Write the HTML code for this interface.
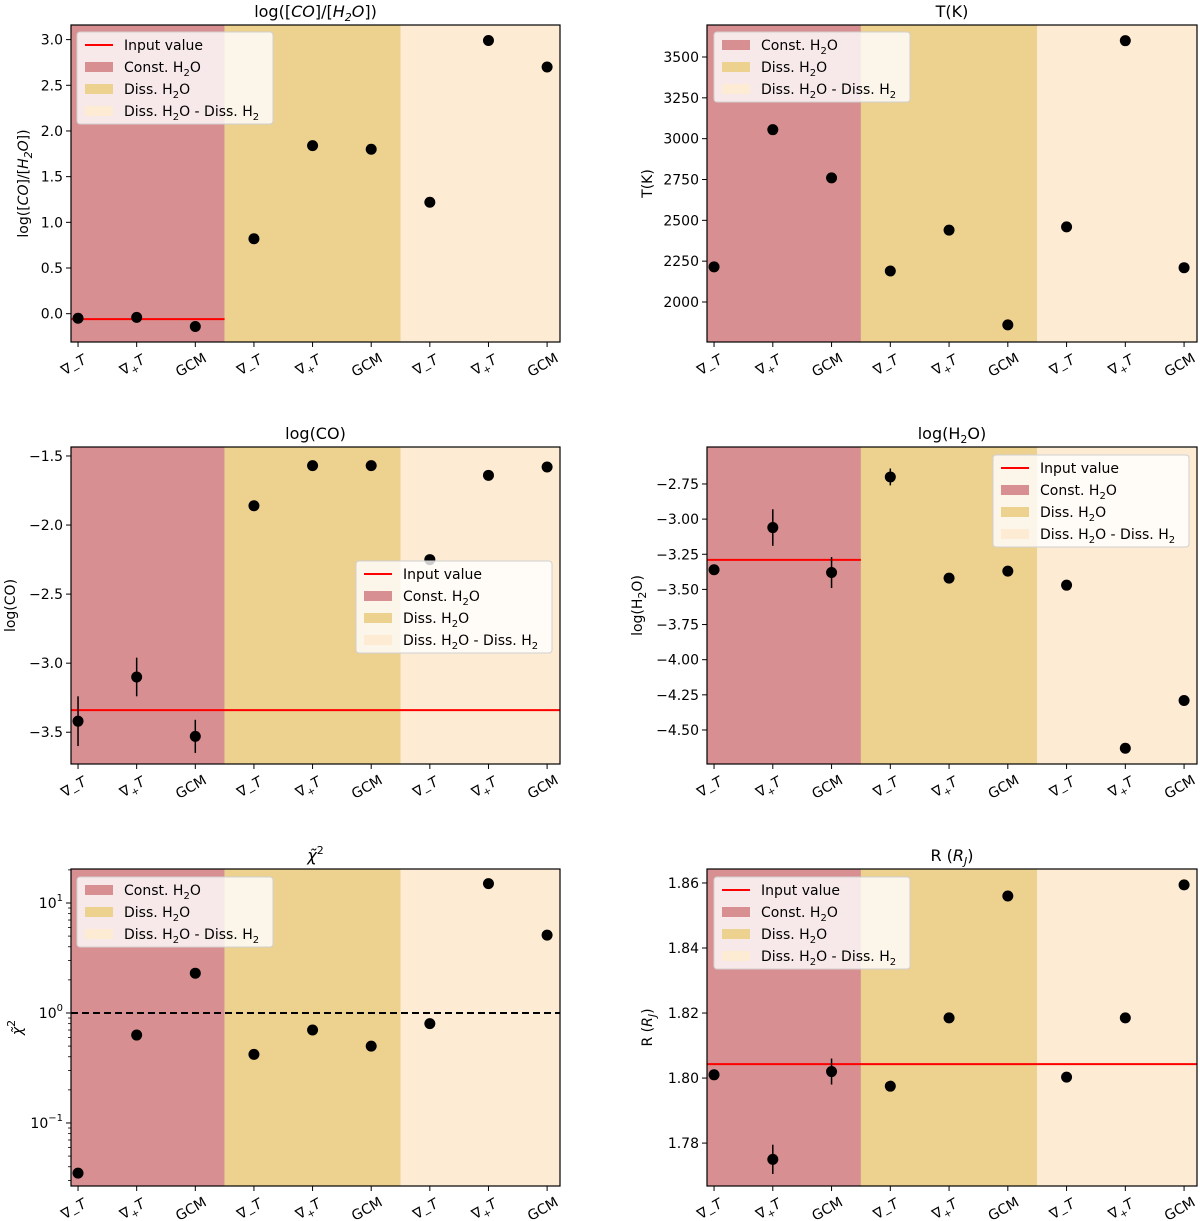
<!DOCTYPE html>
<html><head><meta charset="utf-8">
<style>
html,body{margin:0;padding:0;background:#fff;}
svg{display:block;font-family:"DejaVu Sans","Liberation Sans",sans-serif;}
</style></head>
<body>
<svg id="fig" width="1200" height="1221" viewBox="0 0 1200 1221" xmlns="http://www.w3.org/2000/svg"></svg>
<script>
const categories = ["grad-T","grad+T","GCM","grad-T","grad+T","GCM","grad-T","grad+T","GCM"];
const coh2oValues = [-0.05,-0.04,-0.14,0.82,1.84,1.80,1.22,2.99,2.70];
const coh2oErr = [0,0,0,0,0,0,0,0,0];
const tempValues = [2215,3055,2760,2190,2440,1860,2460,3600,2210];
const tempErr = [0,0,0,0,0,0,0,0,0];
const logcoValues = [-3.42,-3.10,-3.53,-1.86,-1.57,-1.57,-2.25,-1.64,-1.58];
const logcoErr = [0.18,0.14,0.12,0,0,0,0.03,0,0];
const logh2oValues = [-3.36,-3.06,-3.38,-2.70,-3.42,-3.37,-3.47,-4.63,-4.29];
const logh2oErr = [0,0.13,0.11,0.06,0,0,0,0,0];
const chi2Values = [0.035,0.63,2.3,0.42,0.7,0.5,0.8,15,5.1];
const chi2Err = [0,0,0,0,0,0,0,0,0];
const radiusValues = [1.801,1.775,1.802,1.7975,1.8185,1.856,1.8003,1.8185,1.8594];
const radiusErr = [0,0.0045,0.004,0.001,0,0,0,0,0];
const coh2oTicks = [0.0,0.5,1.0,1.5,2.0,2.5,3.0];
const tempTicks = [2000,2250,2500,2750,3000,3250,3500];
const logcoTicks = [-3.5,-3.0,-2.5,-2.0,-1.5];
const logh2oTicks = [-4.5,-4.25,-4.0,-3.75,-3.5,-3.25,-3.0,-2.75];
const radiusTicks = [1.78,1.80,1.82,1.84,1.86];
const chi2Ticks = [-1,0,1];

const NS="http://www.w3.org/2000/svg";
const svg=document.getElementById('fig');
function mk(tag,attrs,parent){const e=document.createElementNS(NS,tag);for(const k in attrs)e.setAttribute(k,attrs[k]);(parent||svg).appendChild(e);return e;}

const COLS=[{l:71,r:560},{l:707,r:1197}];
const ROWS=[{t:25,b:342},{t:447,b:764},{t:869,b:1186}];
const XMIN=-0.12,XMAX=8.22;

function fmt(v,d){const s=v.toFixed(d);return s.replace('-','\u2212');}

function panel(opt){
  const c=COLS[opt.col],r=ROWS[opt.row];
  const g=mk('g',{});
  
  
  const xs=v=>c.l+(v-XMIN)/(XMAX-XMIN)*(c.r-c.l);
  const tf=opt.log?(v=>Math.log10(v)):(v=>v);
  const ys=v=>r.b-(tf(v)-opt.ymin)/(opt.ymax-opt.ymin)*(r.b-r.t);
  const ysRaw=lv=>r.b-(lv-opt.ymin)/(opt.ymax-opt.ymin)*(r.b-r.t);
  const spans=[[XMIN,2.5,'#d88f91','span-const-h2o'],[2.5,5.5,'#ecd18f','span-diss-h2o'],[5.5,XMAX,'#fdebd3','span-diss-h2o-diss-h2']];
  spans.forEach(s=>{const e=mk('rect',{x:xs(s[0]),y:r.t,width:xs(s[1])-xs(s[0]),height:r.b-r.t,fill:s[2]},g);
    
    });
  if(opt.input!==undefined){const e=mk('line',{x1:xs(XMIN),x2:xs(opt.inputEnd),y1:ys(opt.input),y2:ys(opt.input),stroke:'#ff0000','stroke-width':2},g);
    
    }
  if(opt.dashed!==undefined){const e=mk('line',{x1:c.l,x2:c.r,y1:ys(opt.dashed),y2:ys(opt.dashed),stroke:'#000','stroke-width':2,'stroke-dasharray':'7,4'},g);
    
    }
  opt.vals.forEach((v,i)=>{
    const x=xs(i),y=ys(v);
    if(opt.err[i]>0){
      const y1=opt.log?ys(v*(1+opt.err[i])):ys(v+opt.err[i]);
      const y2=opt.log?ys(v/(1+opt.err[i])):ys(v-opt.err[i]);
      const e=mk('line',{x1:x,x2:x,y1:y1,y2:y2,stroke:'#000','stroke-width':1.5},g);
      
      
    }
    const p=mk('circle',{cx:x,cy:y,r:5.5,fill:'#000'},g);
    
    
  });
  const f=mk('rect',{x:c.l,y:r.t,width:c.r-c.l,height:r.b-r.t,fill:'none',stroke:'#000','stroke-width':1.2},g);
  
  
  categories.forEach((cat,i)=>{
    const x=xs(i);
    mk('line',{x1:x,x2:x,y1:r.b,y2:r.b+5,stroke:'#000','stroke-width':1},g);
    const t=mk('text',{x:0,y:0,'font-size':14,'text-anchor':'middle',transform:`translate(${x-2},${r.b+27}) rotate(-30)`},g);
    
    
    if(cat==='GCM'){t.textContent='GCM';}
    else{
      const a=mk('tspan',{},t);a.textContent='\u2207';
      const b=mk('tspan',{'font-size':10,dy:4},t);b.textContent=cat==='grad-T'?'\u2212':'+';
      const d=mk('tspan',{dy:-4,'font-style':'italic'},t);d.textContent='T';
    }
  });
  if(opt.log){
    for(let dec=-2;dec<=1;dec++){for(let m=2;m<=9;m++){const lv=dec+Math.log10(m);
      if(lv>opt.ymin&&lv<opt.ymax){const y=ysRaw(lv);mk('line',{x1:c.l-3,x2:c.l,y1:y,y2:y,stroke:'#000','stroke-width':0.8},g);}}}
    opt.ticks.forEach(p=>{const y=ysRaw(p);
      mk('line',{x1:c.l-5,x2:c.l,y1:y,y2:y,stroke:'#000','stroke-width':1},g);
      const t=mk('text',{x:c.l-8,y:y+5,'font-size':14,'text-anchor':'end'},g);
      
      
      const a=mk('tspan',{},t);a.textContent='10';
      const b=mk('tspan',{'font-size':10,dy:-7},t);b.textContent=p<0?'\u2212'+(-p):String(p);
    });
  } else {
    opt.ticks.forEach(v=>{const y=ys(v);
      mk('line',{x1:c.l-5,x2:c.l,y1:y,y2:y,stroke:'#000','stroke-width':1},g);
      const t=mk('text',{x:c.l-8,y:y+5,'font-size':14,'text-anchor':'end'},g);
      
      
      t.textContent=fmt(v,opt.dec);
    });
  }
  const tt=mk('text',{x:(c.l+c.r)/2,y:r.t-8,'font-size':16,'text-anchor':'middle'},g);
  
  
  opt.title(tt);
  const yl=mk('text',{x:0,y:0,'font-size':14,'text-anchor':'middle',transform:`translate(${opt.ylx},${(r.t+r.b)/2}) rotate(-90)`},g);
  
  
  opt.title(yl,true);
  if(opt.legend){
    const L=opt.legend;const n=L.input?4:3;
    const lg=mk('g',{},g);
    
    
    mk('rect',{x:L.x,y:L.y,width:196,height:n*22+4,rx:3,fill:'rgba(255,255,255,0.8)',stroke:'#d0d0d0','stroke-width':1},lg);
    let yy=L.y+13;
    const items=[];
    if(L.input)items.push(['line','Input value']);
    items.push(['#d88f91','Const. H','2','O']);
    items.push(['#ecd18f','Diss. H','2','O']);
    items.push(['#fdebd3','Diss. H','2','O - Diss. H','2']);
    items.forEach(it=>{
      const ent=mk('g',{},lg);
      
      
      if(it[0]==='line')mk('line',{x1:L.x+8,x2:L.x+36,y1:yy,y2:yy,stroke:'#ff0000','stroke-width':2},ent);
      else mk('rect',{x:L.x+8,y:yy-5,width:28,height:10,fill:it[0]},ent);
      const t=mk('text',{x:L.x+47,y:yy+5,'font-size':14},ent);
      let dy=0;
      for(let k=1;k<it.length;k++){
        const s=mk('tspan',{},t);
        if(k%2===0){s.setAttribute('font-size',10);s.setAttribute('dy',4);dy=4;}
        else if(dy){s.setAttribute('dy',-4);dy=0;}
        s.textContent=it[k];
      }
      yy+=22;
    });
  }
}

function sub(t,main,s,rest){const a=mk('tspan',{},t);a.textContent=main;const b=mk('tspan',{'font-size':11,dy:4},t);b.textContent=s;const d=mk('tspan',{dy:-4},t);d.textContent=rest;}

panel({name:'co-h2o-ratio',col:0,row:0,vals:coh2oValues,err:coh2oErr,ymin:-0.31,ymax:3.16,ticks:coh2oTicks,dec:1,input:-0.06,inputEnd:2.5,ylx:28,
  title:(t)=>{const a=mk('tspan',{},t);a.textContent='log([';const b=mk('tspan',{'font-style':'italic'},t);b.textContent='CO';const c=mk('tspan',{},t);c.textContent=']/[';
    const d=mk('tspan',{'font-style':'italic'},t);d.textContent='H';const e=mk('tspan',{'font-size':11,dy:4,'font-style':'italic'},t);e.textContent='2';const f=mk('tspan',{dy:-4,'font-style':'italic'},t);f.textContent='O';const h=mk('tspan',{},t);h.textContent='])';},
  legend:{x:77,y:32,input:true}});
panel({name:'temperature',col:1,row:0,vals:tempValues,err:tempErr,ymin:1755,ymax:3696,ticks:tempTicks,dec:0,ylx:652,
  title:(t)=>{t.textContent='T(K)';},legend:{x:714,y:32,input:false}});
panel({name:'log-co',col:0,row:1,vals:logcoValues,err:logcoErr,ymin:-3.73,ymax:-1.435,ticks:logcoTicks,dec:1,input:-3.34,inputEnd:XMAX,ylx:15,
  title:(t)=>{t.textContent='log(CO)';},legend:{x:356,y:561,input:true}});
panel({name:'log-h2o',col:1,row:1,vals:logh2oValues,err:logh2oErr,ymin:-4.742,ymax:-2.487,ticks:logh2oTicks,dec:2,input:-3.29,inputEnd:2.5,ylx:642,
  title:(t)=>{sub(t,'log(H','2','O)');},legend:{x:993,y:455,input:true}});
panel({name:'reduced-chi2',col:0,row:2,log:true,vals:chi2Values,err:chi2Err,ymin:-1.573,ymax:1.309,ticks:chi2Ticks,dashed:1,ylx:22,
  title:(t,isY)=>{const a=mk('tspan',{'font-style':'italic'},t);a.textContent='\u03C7\u0303';const b=mk('tspan',{'font-size':11,dy:-7},t);b.textContent='2';},
  legend:{x:77,y:877,input:false}});
panel({name:'radius',col:1,row:2,vals:radiusValues,err:radiusErr,ymin:1.7668,ymax:1.8643,ticks:radiusTicks,dec:2,input:1.8043,inputEnd:XMAX,ylx:652,
  title:(t)=>{const a=mk('tspan',{},t);a.textContent='R (';const b=mk('tspan',{'font-style':'italic'},t);b.textContent='R';const c=mk('tspan',{'font-size':11,dy:4,'font-style':'italic'},t);c.textContent='J';const d=mk('tspan',{dy:-4},t);d.textContent=')';},
  legend:{x:714,y:877,input:true}});
</script>
</body></html>
